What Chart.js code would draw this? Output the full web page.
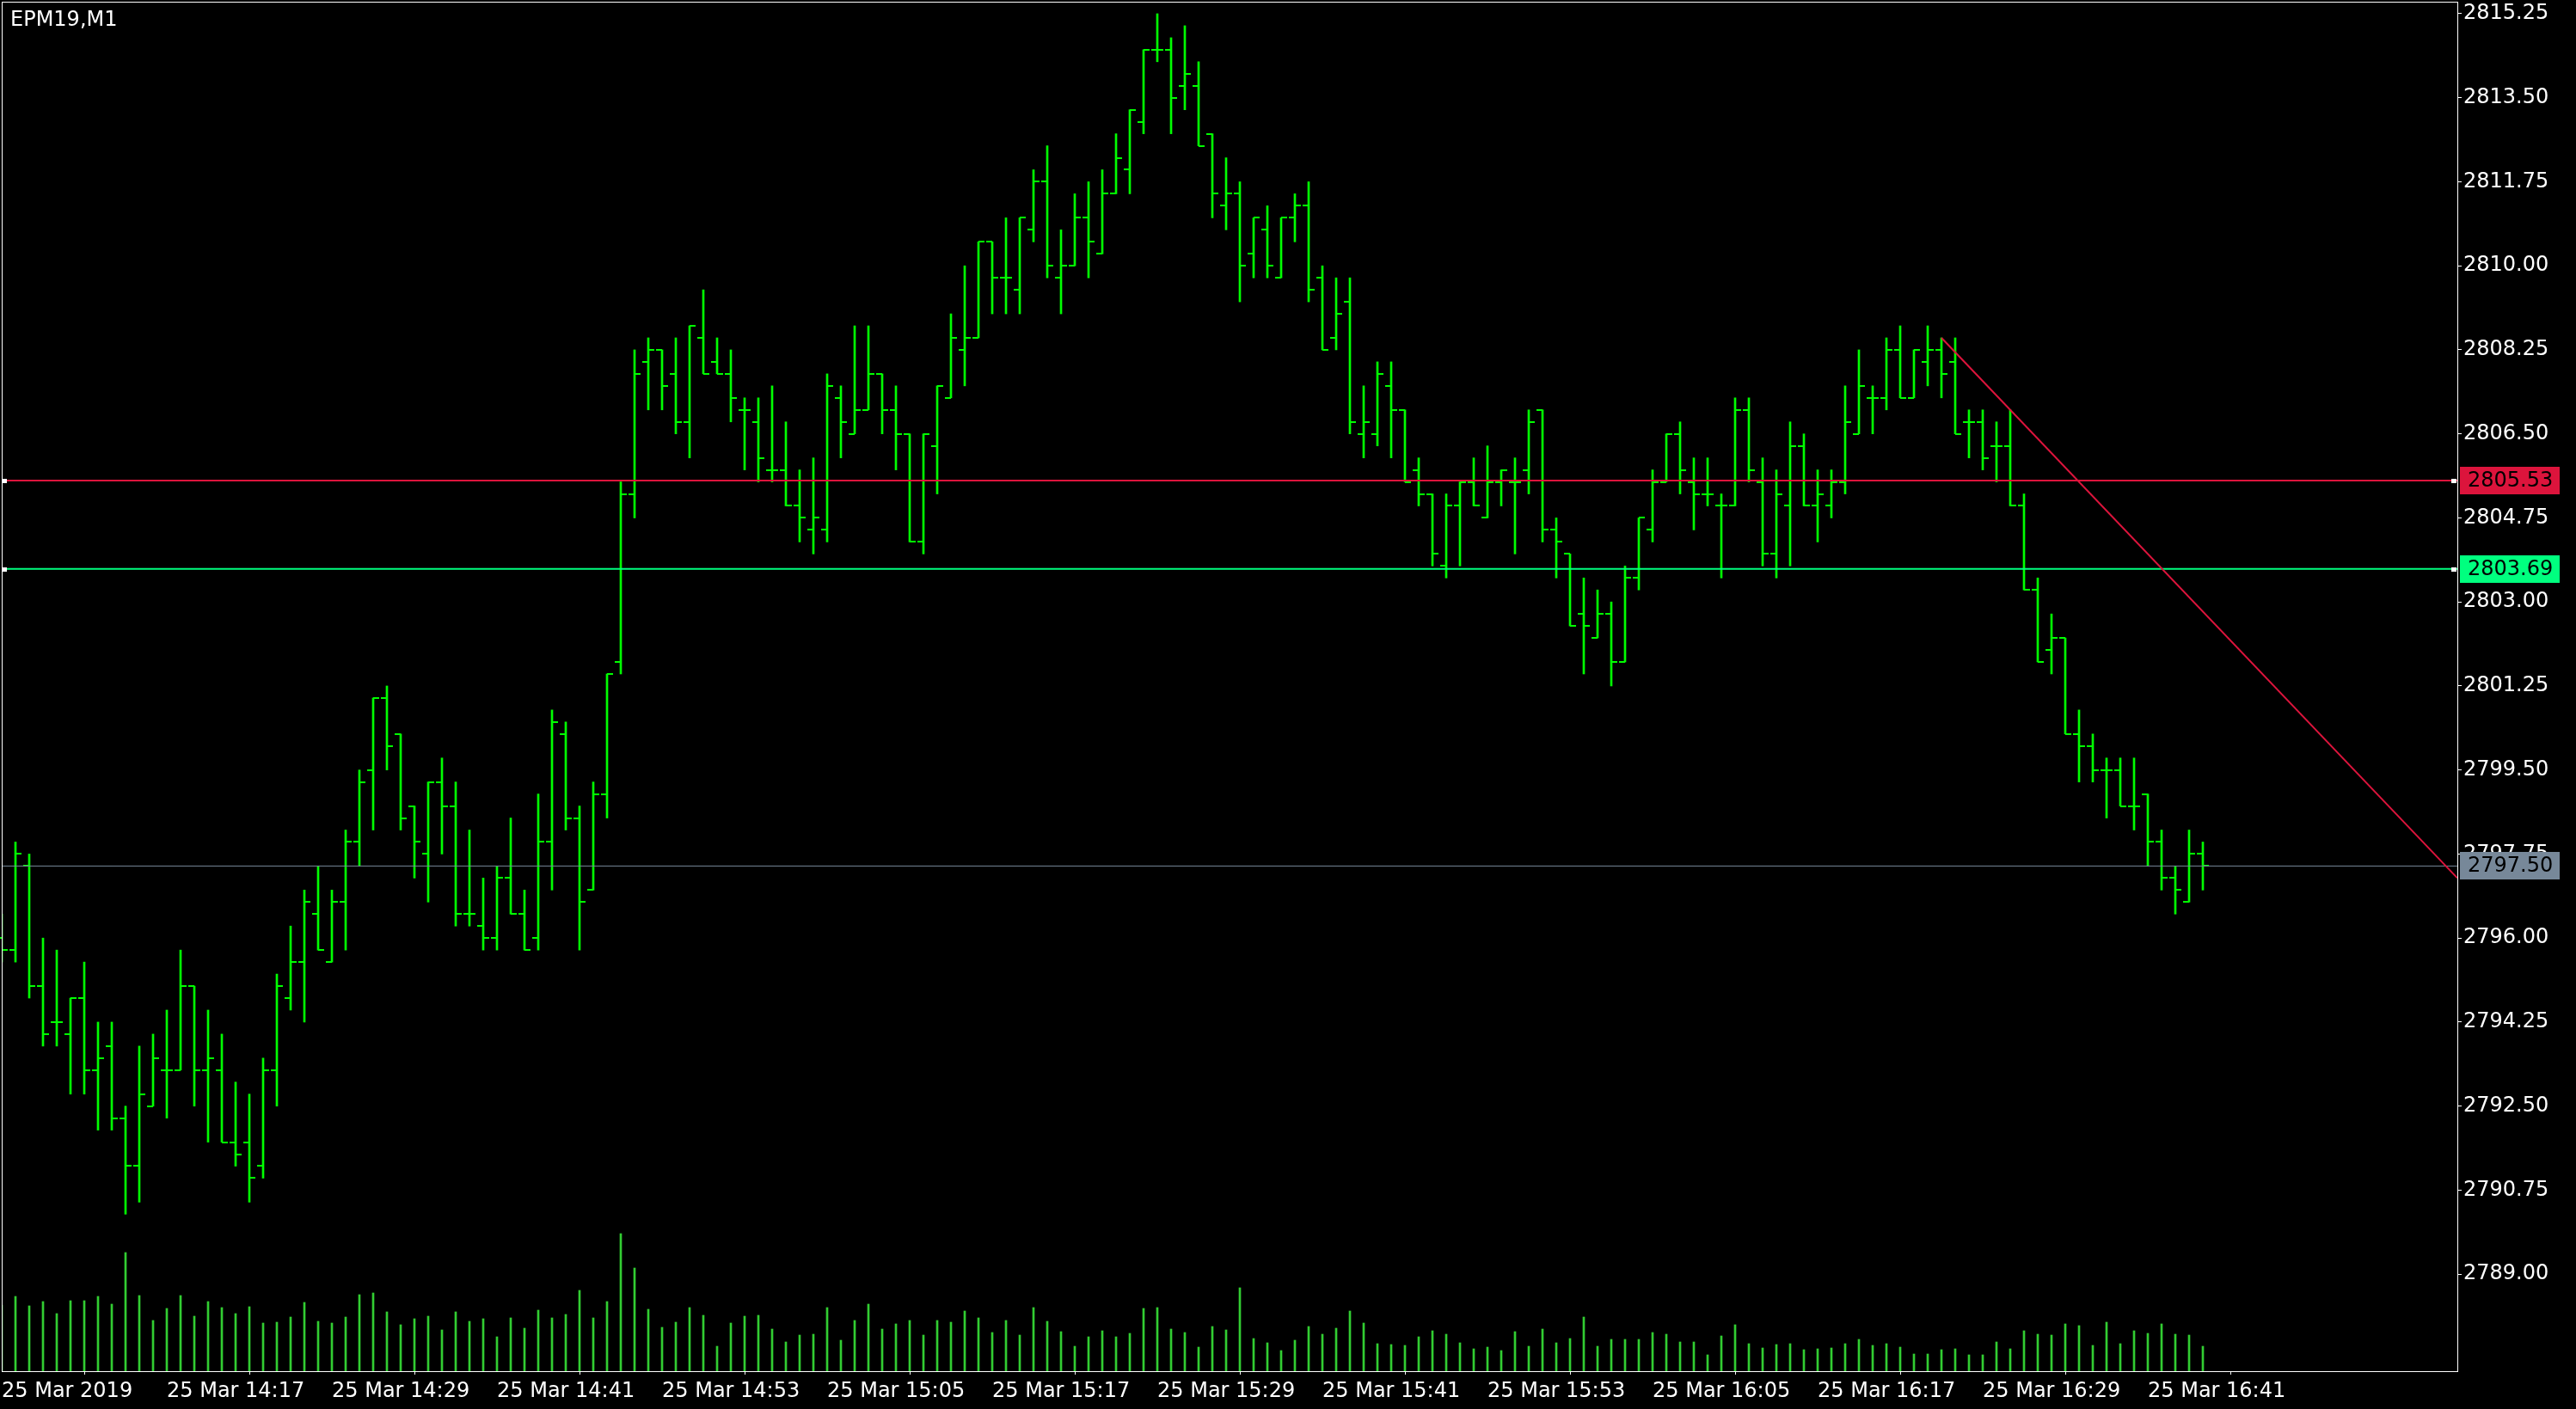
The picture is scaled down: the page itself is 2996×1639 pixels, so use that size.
<!doctype html>
<html lang="en">
<head>
<meta charset="utf-8">
<title>EPM19,M1</title>
<style>
  * { margin: 0; padding: 0; }
  body { background: #000; overflow: hidden; }
  canvas { display: block; background: #000; }
</style>
</head>
<body>
<canvas id="chart" width="2996" height="1639"></canvas>
<script src="https://cdn.jsdelivr.net/npm/chart.js"></script>
<script>
// one-minute bars, 25 Mar 2019 14:05 .. 16:45
const opens = [
  2796.0, 2795.75, 2797.5, 2795.0, 2794.25, 2794.0, 2794.75, 2793.25, 2793.75, 2792.25,
  2791.25, 2792.5, 2793.25, 2793.25, 2795.0, 2793.25, 2793.25, 2791.75, 2791.75, 2791.25,
  2793.25, 2794.75, 2795.5, 2796.5, 2795.5, 2796.75, 2798.0, 2799.5, 2801.0, 2800.25,
  2798.75, 2797.75, 2799.25, 2798.75, 2796.5, 2796.25, 2796.0, 2797.25, 2796.5, 2796.0,
  2798.0, 2800.25, 2798.5, 2797.0, 2799.0, 2801.75, 2805.25, 2808.0, 2808.25, 2807.75,
  2806.75, 2808.5, 2808.0, 2807.75, 2807.0, 2806.75, 2805.75, 2805.75, 2805.0, 2804.5,
  2804.5, 2807.25, 2806.5, 2807.0, 2807.75, 2807.0, 2806.5, 2804.25, 2806.25, 2807.25,
  2808.25, 2808.5, 2810.5, 2809.75, 2809.5, 2810.75, 2811.75, 2809.75, 2810.0, 2811.0,
  2810.25, 2811.5, 2812.0, 2813.0, 2814.5, 2814.5, 2813.75, 2813.75, 2812.75, 2811.25,
  2811.5, 2810.25, 2810.75, 2809.75, 2811.0, 2811.25, 2809.75, 2808.5, 2809.25, 2806.5,
  2806.5, 2807.5, 2807.0, 2805.75, 2805.25, 2803.75, 2805.0, 2805.5, 2804.75, 2805.5,
  2805.5, 2805.75, 2807.0, 2804.5, 2804.0, 2802.75, 2802.25, 2802.75, 2801.75, 2803.5,
  2804.5, 2805.5, 2806.5, 2805.5, 2805.25, 2805.0, 2805.0, 2807.0, 2805.5, 2804.0,
  2805.0, 2806.25, 2805.0, 2805.0, 2805.5, 2806.5, 2807.25, 2807.25, 2808.25, 2807.25,
  2808.0, 2808.25, 2808.0, 2806.75, 2806.75, 2806.25, 2806.25, 2805.0, 2803.25, 2802.0,
  2802.25, 2800.25, 2800.0, 2799.5, 2799.5, 2798.75, 2799.0, 2798.0, 2797.25, 2796.75,
  2797.75
];
const highs = [
  2796.5, 2798.0, 2797.75, 2796.0, 2795.75, 2794.75, 2795.5, 2794.25, 2794.25, 2792.5,
  2793.75, 2794.0, 2794.5, 2795.75, 2795.0, 2794.5, 2794.0, 2793.0, 2792.75, 2793.5,
  2795.25, 2796.25, 2797.0, 2797.5, 2797.0, 2798.25, 2799.5, 2801.0, 2801.25, 2800.25,
  2798.75, 2799.25, 2799.75, 2799.25, 2798.25, 2797.25, 2797.5, 2798.5, 2797.0, 2799.0,
  2800.75, 2800.5, 2798.75, 2799.25, 2801.5, 2805.5, 2808.25, 2808.5, 2808.25, 2808.5,
  2808.75, 2809.5, 2808.5, 2808.25, 2807.25, 2807.25, 2807.5, 2806.75, 2805.75, 2806.0,
  2807.75, 2807.5, 2808.75, 2808.75, 2807.75, 2807.5, 2806.5, 2806.5, 2807.5, 2809.0,
  2810.0, 2810.5, 2810.5, 2811.0, 2811.0, 2812.0, 2812.5, 2810.75, 2811.5, 2811.75,
  2812.0, 2812.75, 2813.25, 2814.5, 2815.25, 2814.75, 2815.0, 2814.25, 2812.75, 2812.25,
  2811.75, 2811.0, 2811.25, 2811.0, 2811.5, 2811.75, 2810.0, 2809.75, 2809.75, 2807.5,
  2808.0, 2808.0, 2807.0, 2806.0, 2805.25, 2805.25, 2805.5, 2806.0, 2806.25, 2805.75,
  2806.0, 2807.0, 2807.0, 2804.75, 2804.0, 2803.5, 2803.25, 2803.0, 2803.75, 2804.75,
  2805.75, 2806.5, 2806.75, 2806.0, 2806.0, 2805.25, 2807.25, 2807.25, 2806.0, 2805.75,
  2806.75, 2806.5, 2805.75, 2805.75, 2807.5, 2808.25, 2807.5, 2808.5, 2808.75, 2808.25,
  2808.75, 2808.5, 2808.5, 2807.0, 2807.0, 2806.75, 2807.0, 2805.25, 2803.5, 2802.75,
  2802.25, 2800.75, 2800.25, 2799.75, 2799.75, 2799.75, 2799.0, 2798.25, 2797.5, 2798.25,
  2798.0
];
const lows = [
  2795.5, 2795.5, 2794.75, 2793.75, 2793.75, 2792.75, 2792.75, 2792.0, 2792.0, 2790.25,
  2790.5, 2792.5, 2792.25, 2793.25, 2792.5, 2791.75, 2791.75, 2791.25, 2790.5, 2791.0,
  2792.5, 2794.5, 2794.25, 2795.75, 2795.5, 2795.75, 2797.5, 2798.25, 2799.5, 2798.25,
  2797.25, 2796.75, 2797.75, 2796.25, 2796.25, 2795.75, 2795.75, 2796.5, 2795.75, 2795.75,
  2797.0, 2798.25, 2795.75, 2797.0, 2798.5, 2801.5, 2804.75, 2807.0, 2807.0, 2806.5,
  2806.0, 2807.75, 2807.75, 2806.75, 2805.75, 2805.5, 2805.5, 2805.0, 2804.25, 2804.0,
  2804.25, 2806.0, 2806.5, 2807.0, 2806.5, 2805.75, 2804.25, 2804.0, 2805.25, 2807.25,
  2807.5, 2808.5, 2809.0, 2809.0, 2809.0, 2810.5, 2809.75, 2809.0, 2810.0, 2809.75,
  2810.25, 2811.5, 2811.5, 2812.75, 2814.25, 2812.75, 2813.25, 2812.5, 2811.0, 2810.75,
  2809.25, 2809.75, 2809.75, 2809.75, 2810.5, 2809.25, 2808.25, 2808.25, 2806.5, 2806.0,
  2806.25, 2806.0, 2805.5, 2805.0, 2803.75, 2803.5, 2803.75, 2805.0, 2804.75, 2805.0,
  2804.0, 2805.25, 2804.25, 2803.5, 2802.5, 2801.5, 2802.25, 2801.25, 2801.75, 2803.25,
  2804.25, 2805.5, 2805.25, 2804.5, 2805.0, 2803.5, 2805.0, 2805.5, 2803.75, 2803.5,
  2803.75, 2805.0, 2804.25, 2804.75, 2805.25, 2806.5, 2806.5, 2807.0, 2807.25, 2807.25,
  2807.5, 2807.25, 2806.5, 2806.0, 2805.75, 2805.5, 2805.0, 2803.25, 2801.75, 2801.5,
  2800.25, 2799.25, 2799.25, 2798.5, 2798.75, 2798.25, 2797.5, 2797.0, 2796.5, 2796.75,
  2797.0
];
const closes = [
  2795.75, 2797.75, 2795.0, 2794.0, 2794.25, 2794.75, 2793.25, 2793.5, 2792.25, 2791.25,
  2792.75, 2793.5, 2793.25, 2795.0, 2793.25, 2793.5, 2791.75, 2791.5, 2791.0, 2793.25,
  2795.0, 2795.5, 2796.75, 2795.75, 2796.75, 2798.0, 2799.25, 2801.0, 2800.0, 2798.5,
  2798.0, 2799.25, 2798.75, 2796.5, 2796.5, 2796.0, 2797.25, 2796.5, 2795.75, 2798.0,
  2800.5, 2798.5, 2796.75, 2799.0, 2801.5, 2805.25, 2807.75, 2808.25, 2807.5, 2806.75,
  2808.75, 2807.75, 2807.75, 2807.25, 2807.0, 2806.0, 2805.75, 2805.0, 2804.75, 2804.75,
  2807.5, 2806.75, 2807.0, 2807.75, 2807.0, 2806.5, 2804.25, 2806.5, 2807.5, 2808.5,
  2808.5, 2810.5, 2809.75, 2809.75, 2811.0, 2811.75, 2810.0, 2810.0, 2811.0, 2810.5,
  2811.5, 2812.25, 2813.25, 2814.5, 2814.5, 2813.5, 2814.0, 2812.5, 2811.5, 2811.5,
  2810.0, 2811.0, 2810.0, 2811.0, 2811.25, 2809.5, 2808.25, 2809.0, 2806.75, 2806.75,
  2807.75, 2807.0, 2805.5, 2805.25, 2804.0, 2805.0, 2805.5, 2805.0, 2805.5, 2805.75,
  2805.5, 2806.75, 2804.5, 2804.25, 2802.5, 2802.5, 2802.75, 2801.75, 2803.5, 2804.75,
  2805.5, 2806.5, 2805.75, 2805.25, 2805.25, 2805.0, 2807.0, 2805.75, 2804.0, 2805.25,
  2806.25, 2805.0, 2805.25, 2805.5, 2806.75, 2807.5, 2807.25, 2808.25, 2807.25, 2808.25,
  2808.25, 2807.75, 2806.5, 2806.75, 2806.0, 2806.25, 2805.0, 2803.25, 2801.75, 2802.25,
  2800.25, 2800.0, 2799.5, 2799.5, 2798.75, 2798.75, 2798.0, 2797.25, 2797.0, 2797.75,
  2797.5
];
// tick volume
const volumes = [
  230, 261, 228, 243, 201, 246, 246, 261, 234, 414,
  264, 177, 219, 264, 192, 243, 222, 201, 225, 168,
  171, 189, 240, 174, 168, 189, 267, 273, 207, 162,
  183, 192, 144, 207, 174, 183, 120, 186, 150, 213,
  186, 198, 282, 186, 243, 480, 360, 216, 153, 171,
  222, 195, 87, 168, 192, 195, 147, 102, 126, 129,
  222, 108, 177, 234, 147, 165, 177, 126, 177, 171,
  210, 186, 135, 177, 126, 222, 174, 138, 87, 120,
  141, 120, 132, 219, 222, 147, 135, 84, 156, 144,
  291, 114, 99, 72, 108, 156, 129, 150, 210, 168,
  96, 93, 90, 120, 141, 129, 99, 78, 84, 72,
  138, 87, 147, 99, 114, 189, 87, 111, 111, 111,
  135, 129, 102, 102, 57, 123, 162, 96, 81, 93,
  96, 75, 78, 81, 96, 111, 90, 96, 84, 60,
  60, 75, 78, 57, 57, 102, 78, 141, 129, 126,
  165, 159, 90, 171, 96, 141, 132, 165, 129, 126,
  87
];

// axes
const timeTickBars = [0, 12, 24, 36, 48, 60, 72, 84, 96, 108, 120, 132, 144, 156];
const timeTickLabels = ['25 Mar 2019', '25 Mar 14:17', '25 Mar 14:29', '25 Mar 14:41', '25 Mar 14:53',
  '25 Mar 15:05', '25 Mar 15:17', '25 Mar 15:29', '25 Mar 15:41', '25 Mar 15:53', '25 Mar 16:05',
  '25 Mar 16:17', '25 Mar 16:29', '25 Mar 16:41'];
const priceTicks = [2789.00, 2790.75, 2792.50, 2794.25, 2796.00, 2797.75, 2799.50, 2801.25,
  2803.00, 2804.75, 2806.50, 2808.25, 2810.00, 2811.75, 2813.50, 2815.25];

// drawn objects
const levelPrices = [2805.53, 2803.69];
const levelColors = ['#DC143C', '#00FF7F'];
const bidPrice = 2797.50;
const trendLine = [{x: 141, y: 2808.50}, {x: 178.5, y: 2797.25}];

const xMin = 0, xMax = 178.5;
const barColor = '#00FF00';
const volColor = '#32CD32';

Chart.defaults.font.family = '"DejaVu Sans", sans-serif';
Chart.defaults.font.size = 24;
Chart.defaults.color = '#FFFFFF';

const hlIndex = 4;

const terminal = {
    id: 'terminal',
    afterDatasetDraw(chart, args) {
        if (args.index !== hlIndex) return;
        const {ctx, scales: {x, y}} = chart;
        ctx.save();
        ctx.fillStyle = barColor;
        for (let i = 0; i < opens.length; i++) {
            const px = Math.round(x.getPixelForValue(i));
            ctx.fillRect(px - 7, Math.round(y.getPixelForValue(opens[i])) - 1, 7, 2);
            ctx.fillRect(px, Math.round(y.getPixelForValue(closes[i])) - 1, 7, 2);
        }
        ctx.restore();
    },
    afterDatasetsDraw(chart) {
        const {ctx, chartArea: {left, top, right, bottom}, scales: {y}} = chart;
        ctx.save();
        // frame
        ctx.strokeStyle = '#FFFFFF';
        ctx.lineWidth = 1;
        ctx.strokeRect(left + 0.5, top + 0.5, right - left, bottom - top);
        // anchor markers of horizontal lines
        ctx.fillStyle = '#FFFFFF';
        levelPrices.forEach(p => {
            const py = Math.round(y.getPixelForValue(p));
            ctx.fillRect(left, py - 2, 6, 5);
            ctx.fillRect(right - 7, py - 2, 6, 5);
        });
        // symbol caption
        ctx.fillStyle = '#FFFFFF';
        ctx.font = '24px "DejaVu Sans"';
        ctx.textBaseline = 'top';
        ctx.textAlign = 'left';
        ctx.fillText('EPM19,M1', 12, 12);
        ctx.restore();
    },
    afterDraw(chart) {
        const {ctx, chartArea: {right}, scales: {y}} = chart;
        const tags = levelPrices.map((p, i) => [p, levelColors[i]]).concat([[bidPrice, '#778899']]);
        ctx.save();
        ctx.font = '24px "DejaVu Sans"';
        ctx.textBaseline = 'middle';
        ctx.textAlign = 'left';
        tags.forEach(([p, c]) => {
            const py = Math.round(y.getPixelForValue(p));
            ctx.fillStyle = c;
            ctx.fillRect(right + 3, py - 16, 116, 32);
            ctx.fillStyle = '#000000';
            ctx.fillText(p.toFixed(2), right + 12, py + 1);
        });
        ctx.restore();
    }
};

const flat = (p) => [{x: xMin, y: p}, {x: xMax, y: p}];

const data = {
    datasets: [{
        type: 'line',
        data: trendLine,
        borderColor: '#DC143C',
        borderWidth: 2,
        pointRadius: 0,
        yAxisID: 'y'
    }, {
        type: 'line',
        data: flat(levelPrices[0]),
        borderColor: levelColors[0],
        borderWidth: 2,
        pointRadius: 0,
        yAxisID: 'y'
    }, {
        type: 'line',
        data: flat(levelPrices[1]),
        borderColor: levelColors[1],
        borderWidth: 2,
        pointRadius: 0,
        yAxisID: 'y'
    }, {
        type: 'line',
        data: flat(bidPrice),
        borderColor: '#778899',
        borderWidth: 1,
        pointRadius: 0,
        yAxisID: 'y'
    }, {
        type: 'bar',
        data: opens.map((o, i) => ({x: i, y: [lows[i], highs[i]]})),
        backgroundColor: barColor,
        borderWidth: 0,
        barThickness: 2,
        grouped: false,
        yAxisID: 'y'
    }, {
        type: 'bar',
        data: volumes.map((v, i) => ({x: i, y: v})),
        backgroundColor: volColor,
        borderWidth: 0,
        barThickness: 2,
        grouped: false,
        yAxisID: 'vol'
    }]
};

const config = {
    type: 'bar',
    data,
    options: {
        responsive: false,
        animation: false,
        devicePixelRatio: 1,
        events: [],
        layout: {
            autoPadding: false,
            padding: {left: 2, top: 2, right: 0, bottom: 0}
        },
        plugins: {
            legend: {display: false},
            tooltip: {enabled: false}
        },
        scales: {
            x: {
                type: 'linear',
                min: xMin,
                max: xMax,
                offset: false,
                grid: {drawOnChartArea: false, drawTicks: true, tickLength: 4, color: '#FFFFFF'},
                border: {display: false},
                ticks: {
                    align: 'start',
                    maxRotation: 0,
                    autoSkip: false,
                    padding: 5,
                    color: '#FFFFFF',
                    callback: (v, i) => timeTickLabels[i]
                },
                afterBuildTicks: s => { s.ticks = timeTickBars.map(v => ({value: v})); },
                afterFit: s => { s.height = 44; s.paddingLeft = 0; s.paddingRight = 0; }
            },
            y: {
                position: 'right',
                min: 2786.98,
                max: 2815.5,
                grid: {drawOnChartArea: false, drawTicks: true, tickLength: 5, color: '#FFFFFF'},
                border: {display: false},
                ticks: {
                    padding: 2,
                    crossAlign: 'near',
                    color: '#FFFFFF',
                    autoSkip: false,
                    font: {size: 24, lineHeight: 0.05},
                    callback: v => v.toFixed(2)
                },
                afterBuildTicks: s => { s.ticks = priceTicks.map(v => ({value: v})); },
                afterFit: s => { s.width = 138; s.paddingTop = 0; s.paddingBottom = 0; }
            },
            vol: {
                display: false,
                min: 0,
                max: 4779
            }
        }
    },
    plugins: [terminal]
};

const myChart = new Chart(document.getElementById('chart'), config);
</script>
</body>
</html>
